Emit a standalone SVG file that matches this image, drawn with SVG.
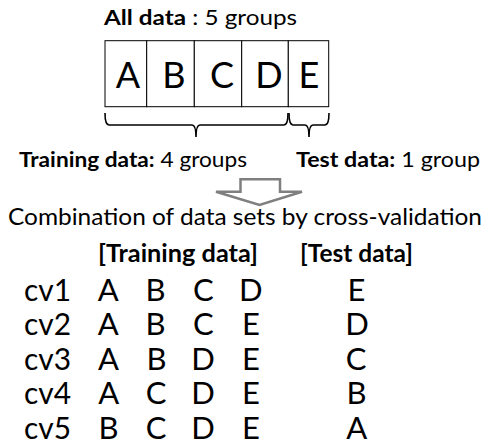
<svg xmlns="http://www.w3.org/2000/svg" width="489" height="445" viewBox="0 0 489 445">
<style>
text{font-family:Lato,"Open Sans","Liberation Sans",sans-serif;fill:#000}
.b{font-weight:bold}
.cell{fill:#fff;stroke:#000;stroke-width:1}
.big{font-size:36px;text-anchor:middle}
.lbl{font-size:21.5px}
.hd{font-size:24px}
.row{font-size:31px}
.m{text-anchor:middle}
.brace{fill:none;stroke:#000;stroke-width:1.6}
.arrow{fill:#fff;stroke:#7f7f7f;stroke-width:2.5;stroke-linejoin:miter}
</style>
<g id="title">
<text x="104" y="25" class="lbl" textLength="193" lengthAdjust="spacingAndGlyphs"><tspan class="b">All data</tspan> : 5 groups</text>
</g>
<g id="all-data">
<rect class="cell" x="105" y="40.7" width="41.7" height="66"/>
<rect class="cell" x="146.7" y="40.7" width="47.6" height="66"/>
<rect class="cell" x="194.3" y="40.7" width="47.4" height="66"/>
<rect class="cell" x="241.7" y="40.7" width="46.6" height="66"/>
<rect class="cell" x="288.3" y="40.7" width="40.4" height="66"/>
<text class="big" x="128" y="87.5">A</text>
<text class="big" x="174" y="87.5">B</text>
<text class="big" x="222" y="87.5">C</text>
<text class="big" x="269" y="87.5">D</text>
<text class="big" x="309" y="87.5">E</text>
</g>
<g id="connectors">
<path class="brace" d="M105,113 Q105,125 109,125 H192 Q196,125 196,137 Q196,125 200,125 H284 Q288,125 288,113"/>
<path class="brace" d="M289,113 Q289,125 293,125 H305 Q309,125 309,137 Q309,125 313,125 H325 Q329,125 329,113"/>
<polygon class="arrow" points="240.5,179.3 280,179.3 280,191.7 302,191.7 259.5,205 216,191.7 240.5,191.7"/>
</g>
<g id="training-label">
<text x="19" y="167" class="lbl" textLength="228" lengthAdjust="spacingAndGlyphs"><tspan class="b">Training data:</tspan> 4 groups</text>
</g>
<g id="test-label">
<text x="296" y="167" class="lbl" textLength="184" lengthAdjust="spacingAndGlyphs"><tspan class="b">Test data:</tspan> 1 group</text>
</g>
<g id="combination">
<text x="8" y="225" class="hd" textLength="474" lengthAdjust="spacingAndGlyphs">Combination of data sets by cross-validation</text>
</g>
<g id="table">
<text x="98" y="262" class="hd b" textLength="160" lengthAdjust="spacingAndGlyphs">[Training data]</text>
<text x="300" y="262" class="hd b" textLength="113" lengthAdjust="spacingAndGlyphs">[Test data]</text>
<g class="row">
<text x="24" y="300.5" textLength="47" lengthAdjust="spacingAndGlyphs">cv1</text>
<text class="m" x="108.3" y="300.5">A</text><text class="m" x="155.5" y="300.5">B</text><text class="m" x="203.3" y="300.5">C</text><text class="m" x="250.8" y="300.5">D</text><text class="m" x="356.5" y="300.5">E</text>
<text x="24" y="335" textLength="47" lengthAdjust="spacingAndGlyphs">cv2</text>
<text class="m" x="108.3" y="335">A</text><text class="m" x="155.5" y="335">B</text><text class="m" x="203.3" y="335">C</text><text class="m" x="251" y="335">E</text><text class="m" x="357" y="335">D</text>
<text x="24" y="369.5" textLength="47" lengthAdjust="spacingAndGlyphs">cv3</text>
<text class="m" x="108.5" y="369.5">A</text><text class="m" x="156.5" y="369.5">B</text><text class="m" x="203" y="369.5">D</text><text class="m" x="251" y="369.5">E</text><text class="m" x="356" y="369.5">C</text>
<text x="24" y="404" textLength="47" lengthAdjust="spacingAndGlyphs">cv4</text>
<text class="m" x="108.7" y="404">A</text><text class="m" x="156" y="404">C</text><text class="m" x="203" y="404">D</text><text class="m" x="251" y="404">E</text><text class="m" x="356.5" y="404">B</text>
<text x="24" y="438.5" textLength="47" lengthAdjust="spacingAndGlyphs">cv5</text>
<text class="m" x="108.5" y="438.5">B</text><text class="m" x="156" y="438.5">C</text><text class="m" x="203" y="438.5">D</text><text class="m" x="251" y="438.5">E</text><text class="m" x="356.7" y="438.5">A</text>
</g>
</g>
</svg>
